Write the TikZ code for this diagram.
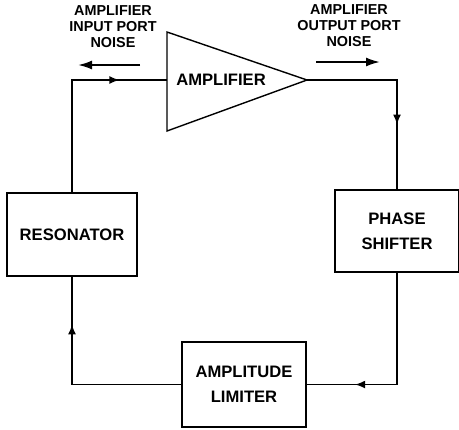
\documentclass[tikz,border=0pt]{standalone}
\usepackage{fontspec}
\setmainfont{Liberation Sans}
\usetikzlibrary{arrows.meta,positioning,calc,decorations.markings}

\begin{document}
\begin{tikzpicture}[
    x=0.5pt, y=-0.5pt,
    box/.style={rectangle, draw, line width=0.7pt, inner sep=0pt, align=center,
        font=\fontsize{8.3}{12.5}\selectfont\bfseries},
    label/.style={align=center, inner sep=0pt, font=\fontsize{7.2}{8}\selectfont\bfseries},
    wire/.style={line width=0.7pt},
    midarrow/.style={wire, postaction={decorate}, decoration={markings,
        mark=at position #1 with {\arrow{Latex[length=5pt,width=4pt]}}}},
    noise/.style={line width=1pt, -{Latex[length=7pt,width=4.5pt]}}
]
\useasboundingbox (0,0) rectangle (459,429);

% Amplifier
\draw[wire] (167,32) coordinate (amptl) -- (307,80) coordinate (ampout)
    -- (167,131) coordinate (ampbl) -- cycle;
\coordinate (ampin) at (167,80);
\node[box, draw=none] (amp) at (221,80) {AMPLIFIER};

% Blocks
\node[box, minimum width=65pt, minimum height=41.5pt] (res) at (72,234.5) {RESONATOR};
\node[box, minimum width=62pt, minimum height=41pt] (phase) at (397,231) {PHASE\\SHIFTER};
\node[box, minimum width=62pt, minimum height=42.5pt] (lim) at (244,384.5) {AMPLITUDE\\LIMITER};

% Loop
\draw[midarrow=0.675] (ampout) -| (phase.north);
\draw[midarrow=0.76] (phase.south) |- (lim.east);
\draw[midarrow=0.78] (lim.west) -| (res.south);
\draw[midarrow=0.77] (res.north) |- (ampin);

% Noise
\node[label] (innoise) at (113,27) {AMPLIFIER\\INPUT PORT\\NOISE};
\node[label] (outnoise) at (349,26) {AMPLIFIER\\OUTPUT PORT\\NOISE};
\coordinate (in1) at (140,65);
\coordinate (in2) at (78,65);
\coordinate (out1) at (316,62);
\coordinate (out2) at (380,62);
\draw[noise] (in1) -- (in2);
\draw[noise] (out1) -- (out2);
\end{tikzpicture}
\end{document}
